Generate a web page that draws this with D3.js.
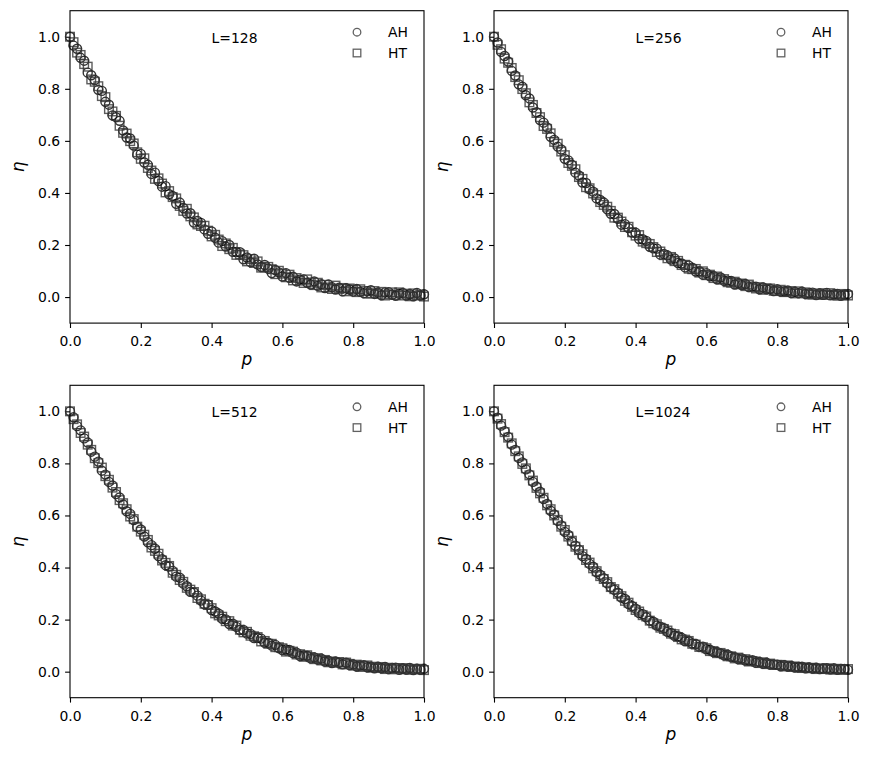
<!DOCTYPE html>
<html>
<head>
<meta charset="utf-8">
<script src="https://cdn.jsdelivr.net/npm/d3@7"></script>
<style>
  body { margin: 0; background: white; }
  text { font-family: "DejaVu Sans", sans-serif; }
</style>
</head>
<body>
<svg id="chart" width="872" height="759"></svg>
<script>
// occupation probability p (x axis)
const P = [0,.01,.02,.03,.04,.05,.06,.07,.08,.09,
  .10,.11,.12,.13,.14,.15,.16,.17,.18,.19,
  .20,.21,.22,.23,.24,.25,.26,.27,.28,.29,
  .30,.31,.32,.33,.34,.35,.36,.37,.38,.39,
  .40,.41,.42,.43,.44,.45,.46,.47,.48,.49,
  .50,.51,.52,.53,.54,.55,.56,.57,.58,.59,
  .60,.61,.62,.63,.64,.65,.66,.67,.68,.69,
  .70,.71,.72,.73,.74,.75,.76,.77,.78,.79,
  .80,.81,.82,.83,.84,.85,.86,.87,.88,.89,
  .90,.91,.92,.93,.94,.95,.96,.97,.98,.99,
  1];

const SIZES = ["L=128", "L=256", "L=512", "L=1024"];
const SERIES = ["AH", "HT"];

const AH128 = [1,.966,.954,.919,.908,.862,.852,.834,.796,.792,
  .750,.739,.698,.691,.677,.640,.613,.609,.582,.547,
  .550,.517,.508,.473,.478,.446,.424,.426,.395,.388,
  .358,.363,.342,.321,.322,.286,.292,.285,.260,.243,
  .252,.228,.209,.215,.194,.200,.174,.173,.172,.145,
  .152,.134,.147,.125,.116,.123,.109,.092,.104,.095,
  .079,.092,.074,.078,.060,.067,.068,.055,.048,.060,
  .043,.049,.035,.048,.038,.029,.036,.022,.034,.029,
  .021,.031,.020,.015,.023,.026,.012,.017,.007,.018,
  .019,.009,.005,.013,.016,.006,.011,.003,.016,.006,
  .011];
const HT128 = [1,.979,.939,.930,.895,.885,.836,.827,.810,.772,
  .768,.722,.713,.696,.658,.631,.628,.599,.590,.556,
  .531,.533,.496,.486,.454,.456,.436,.402,.407,.384,
  .379,.350,.331,.339,.310,.306,.279,.273,.274,.255,
  .233,.239,.221,.196,.206,.184,.189,.162,.164,.161,
  .137,.146,.131,.137,.113,.114,.116,.107,.088,.101,
  .090,.076,.086,.064,.073,.063,.054,.068,.056,.046,
  .055,.037,.047,.037,.031,.044,.031,.035,.022,.033,
  .028,.019,.030,.023,.013,.015,.023,.012,.020,.006,
  .011,.018,.008,.018,.006,.013,.003,.014,.006,.010,
  .002];
const AH256 = [1,.978,.942,.926,.905,.869,.851,.817,.808,.775,
  .763,.728,.710,.680,.670,.652,.616,.604,.578,.567,
  .531,.525,.508,.478,.467,.440,.438,.414,.405,.379,
  .373,.363,.337,.320,.319,.301,.278,.280,.265,.248,
  .247,.223,.222,.216,.193,.187,.186,.163,.166,.160,
  .144,.148,.131,.129,.114,.121,.113,.098,.099,.086,
  .092,.080,.081,.068,.075,.062,.063,.062,.048,.054,
  .046,.050,.038,.041,.040,.030,.037,.030,.031,.023,
  .030,.021,.023,.025,.015,.020,.015,.021,.012,.015,
  .017,.008,.014,.009,.016,.007,.011,.012,.005,.010,
  .012];
const HT256 = [1,.969,.952,.916,.900,.880,.845,.833,.799,.783,
  .748,.738,.707,.691,.657,.646,.629,.596,.589,.559,
  .545,.515,.504,.491,.461,.454,.422,.418,.398,.392,
  .365,.354,.347,.331,.305,.305,.290,.269,.270,.249,
  .236,.238,.213,.207,.204,.192,.173,.175,.161,.149,
  .154,.138,.139,.123,.124,.109,.107,.108,.094,.099,
  .084,.086,.073,.079,.067,.069,.057,.055,.059,.049,
  .052,.042,.048,.038,.033,.038,.028,.033,.033,.024,
  .023,.028,.019,.020,.023,.014,.022,.014,.018,.010,
  .010,.014,.008,.015,.008,.015,.008,.005,.012,.007,
  .006];
const AH512 = [1,.977,.943,.927,.896,.880,.845,.826,.807,.772,
  .757,.729,.715,.682,.669,.642,.616,.606,.582,.556,
  .546,.519,.497,.486,.472,.444,.432,.409,.404,.387,
  .365,.361,.338,.328,.307,.304,.292,.273,.259,.257,
  .237,.231,.223,.203,.201,.183,.184,.172,.160,.160,
  .146,.145,.129,.130,.127,.111,.111,.100,.103,.091,
  .083,.085,.083,.071,.073,.060,.062,.061,.051,.055,
  .046,.050,.039,.042,.033,.039,.034,.028,.034,.025,
  .028,.020,.024,.025,.017,.019,.013,.019,.013,.018,
  .010,.014,.015,.007,.012,.008,.014,.006,.011,.007,
  .011];
const HT512 = [1,.970,.950,.917,.903,.872,.852,.820,.801,.784,
  .751,.737,.707,.690,.659,.647,.624,.596,.586,.557,
  .538,.526,.506,.477,.464,.453,.427,.418,.406,.380,
  .372,.352,.345,.322,.315,.306,.283,.278,.261,.256,
  .244,.224,.216,.211,.194,.194,.177,.177,.161,.151,
  .153,.138,.136,.133,.116,.118,.107,.107,.094,.094,
  .090,.077,.080,.077,.066,.067,.057,.063,.056,.048,
  .052,.043,.045,.036,.039,.034,.037,.028,.035,.030,
  .023,.027,.018,.022,.024,.015,.019,.014,.018,.010,
  .015,.009,.013,.014,.009,.014,.007,.011,.008,.011,
  .006];
const AH1024 = [1,.976,.945,.924,.902,.872,.852,.821,.804,.777,
  .758,.729,.711,.691,.663,.644,.618,.604,.579,.562,
  .537,.525,.500,.484,.468,.444,.433,.414,.403,.382,
  .372,.359,.339,.324,.314,.303,.285,.279,.260,.252,
  .242,.225,.221,.209,.196,.192,.177,.173,.167,.153,
  .149,.138,.136,.130,.117,.117,.108,.106,.096,.096,
  .086,.084,.075,.076,.070,.063,.065,.057,.056,.048,
  .051,.043,.043,.044,.034,.037,.030,.034,.027,.028,
  .027,.021,.025,.020,.022,.016,.018,.019,.013,.016,
  .012,.015,.010,.012,.013,.009,.013,.007,.010,.010,
  .007];
const HT1024 = [1,.972,.951,.920,.899,.877,.847,.827,.798,.781,
  .754,.734,.706,.685,.668,.639,.624,.600,.583,.557,
  .544,.519,.503,.480,.467,.451,.429,.419,.397,.386,
  .367,.356,.344,.325,.317,.299,.290,.272,.265,.249,
  .237,.231,.217,.212,.196,.186,.182,.169,.164,.158,
  .146,.144,.133,.124,.123,.118,.107,.104,.095,.094,
  .090,.079,.079,.071,.072,.067,.059,.059,.051,.054,
  .046,.048,.039,.041,.039,.033,.036,.029,.031,.026,
  .026,.026,.020,.024,.018,.020,.016,.014,.017,.013,
  .015,.010,.013,.010,.013,.008,.009,.011,.007,.009,
  .010];

const X_TICKS = [0, 0.2, 0.4, 0.6, 0.8, 1.0];
const Y_TICKS = [0, 0.2, 0.4, 0.6, 0.8, 1.0];

const panels = [
  { label: SIZES[0], ah: AH128, ht: HT128 },
  { label: SIZES[1], ah: AH256, ht: HT256 },
  { label: SIZES[2], ah: AH512, ht: HT512 },
  { label: SIZES[3], ah: AH1024, ht: HT1024 },
];

const W = 354, H = 312.4;
const lefts = [70, 494], tops = [10.7, 385.3];
const tick = 4.9;
const markerColor = "#000";
const markerAlpha = 0.8;

const svg = d3.select("#chart");

panels.forEach((panel, i) => {
  const ox = lefts[i % 2], oy = tops[Math.floor(i / 2)];
  const g = svg.append("g").attr("transform", `translate(${ox},${oy})`);

  const x = d3.scaleLinear().domain([0, 1]).range([0, W]);
  const y = d3.scaleLinear().domain([-0.1, 1.1]).range([H, 0]);

  const xAxis = g.append("g").attr("transform", `translate(0,${H})`)
    .call(d3.axisBottom(x).tickValues(X_TICKS).tickFormat(d3.format(".1f"))
      .tickSize(tick).tickSizeOuter(0).tickPadding(8.6));
  const yAxis = g.append("g")
    .call(d3.axisLeft(y).tickValues(Y_TICKS).tickFormat(d3.format(".1f"))
      .tickSize(tick).tickSizeOuter(0).tickPadding(4.9));
  [xAxis, yAxis].forEach(a => {
    a.select(".domain").remove();
    a.selectAll("line").attr("stroke", "#000").attr("stroke-width", 1.1);
    a.selectAll("text").attr("fill", "#000").style("font-size", "13.9px")
      .style("font-family", "'DejaVu Sans', sans-serif");
  });

  const plot = g.append("g");
  const pts = (vals) => P.map((p, k) => ({ p, v: vals[k] }));

  plot.selectAll("circle.ah").data(pts(panel.ah)).join("circle")
    .attr("class", "ah")
    .attr("cx", d => x(d.p)).attr("cy", d => y(d.v)).attr("r", 4.5)
    .attr("fill", "none").attr("stroke", markerColor)
    .attr("stroke-opacity", markerAlpha).attr("stroke-width", 1.4);

  const s = 8.6;
  plot.selectAll("rect.ht").data(pts(panel.ht)).join("rect")
    .attr("class", "ht")
    .attr("x", d => x(d.p) - s / 2).attr("y", d => y(d.v) - s / 2)
    .attr("width", s).attr("height", s)
    .attr("fill", "none").attr("stroke", "#333")
    .attr("stroke-opacity", markerAlpha).attr("stroke-width", 1.4);

  // frame
  g.append("rect").attr("width", W).attr("height", H)
    .attr("fill", "none").attr("stroke", "#000").attr("stroke-width", 1.1);

  // size annotation
  g.append("text").attr("x", x(0.4)).attr("y", y(0.977))
    .style("font-size", "13.9px").text(panel.label);

  // legend
  const leg = g.append("g").attr("transform", `translate(${W - 67},0)`);
  leg.append("circle").attr("cx", 0).attr("cy", 21.5).attr("r", 3.8)
    .attr("fill", "none").attr("stroke", markerColor)
    .attr("stroke-opacity", 0.62).attr("stroke-width", 1.3);
  leg.append("rect").attr("x", -3.8).attr("y", 42.3 - 3.8).attr("width", 7.6).attr("height", 7.6)
    .attr("fill", "none").attr("stroke", markerColor)
    .attr("stroke-opacity", 0.62).attr("stroke-width", 1.3);
  SERIES.forEach((name, k) => {
    leg.append("text").attr("x", 31).attr("y", 21.5 + k * 20.8)
      .attr("dy", "0.36em").style("font-size", "13.9px").text(name);
  });

  // axis labels
  g.append("text").attr("x", W / 2).attr("y", H + 42)
    .attr("text-anchor", "middle")
    .style("font-size", "17px").style("font-style", "italic").text("p");
  g.append("text").attr("transform", `translate(${-46},${H / 2}) rotate(-90)`)
    .attr("text-anchor", "middle")
    .style("font-size", "17px").style("font-style", "italic").text("η");
});
</script>
</body>
</html>
